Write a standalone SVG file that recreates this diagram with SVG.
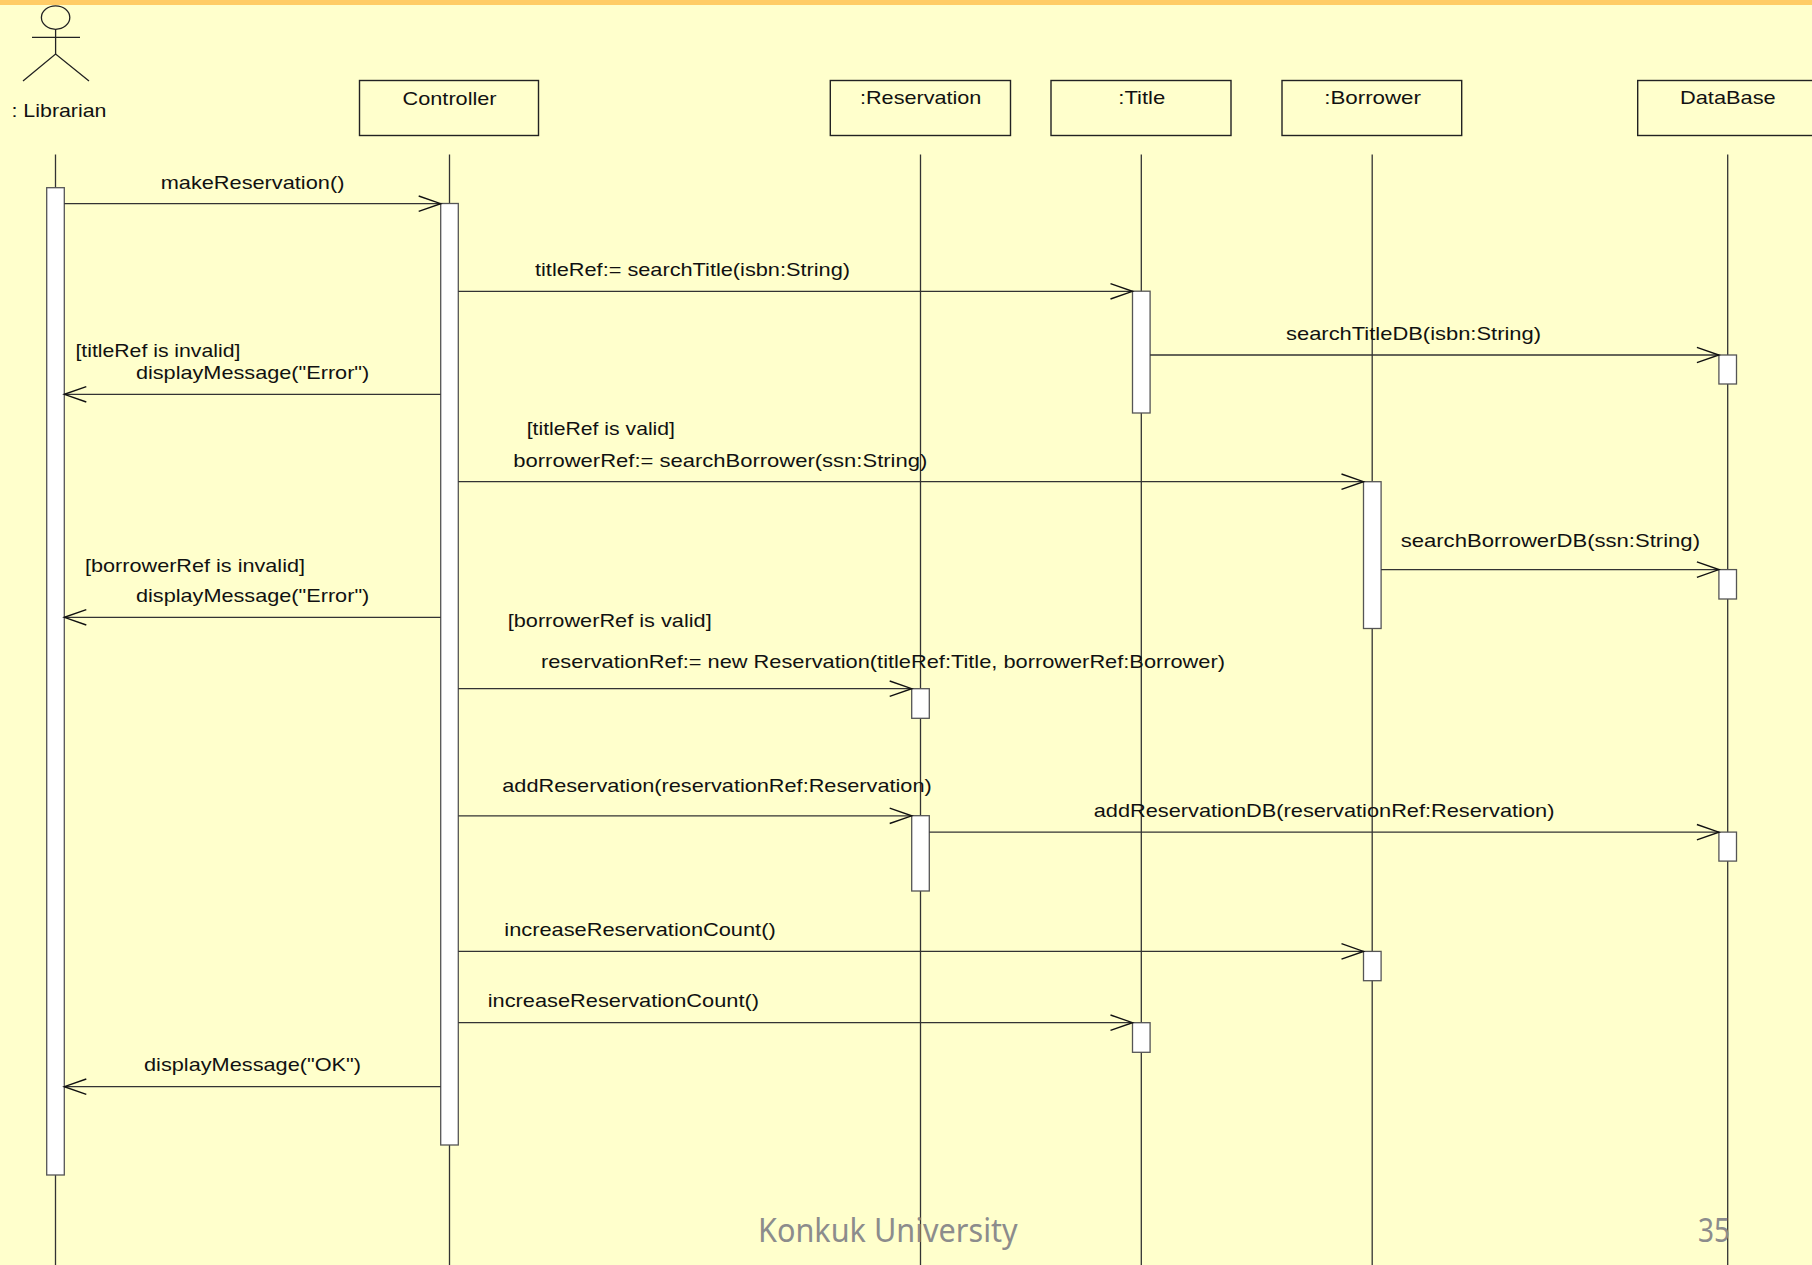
<svg xmlns="http://www.w3.org/2000/svg" width="1812" height="1265" viewBox="0 0 1812 1265">
<style>
.t{font-family:"Liberation Sans",Arial,sans-serif;font-size:18.6px;fill:#111}
.box{fill:none;stroke:#222;stroke-width:1.4}
.life{stroke:#333;stroke-width:1.3}
.act{fill:#fff;stroke:#555;stroke-width:1.3}
.msg{stroke:#333;stroke-width:1.3;fill:none;marker-end:url(#open)}
.foot{font-family:"Noto Sans","DejaVu Sans",sans-serif;font-size:32px;fill:#8c8c8c}
</style>
<defs>
<marker id="open" markerUnits="userSpaceOnUse" markerWidth="26" markerHeight="20" viewBox="0 0 26 20" refX="24" refY="10" orient="auto">
<path d="M2,2.3 L24,10 L2,17.7" fill="none" stroke="#111" stroke-width="1.4"/>
</marker>
</defs>
<rect x="0" y="0" width="1812" height="1265" fill="#FFFFCC"/>
<rect x="0" y="0" width="1812" height="5" fill="#FFCC66"/>

<g id="lifelines">
<line class="life" x1="55.5" y1="154.5" x2="55.5" y2="1265"/>
<line class="life" x1="449.5" y1="154.5" x2="449.5" y2="1265"/>
<line class="life" x1="920.5" y1="154.5" x2="920.5" y2="1265"/>
<line class="life" x1="1141.3" y1="154.5" x2="1141.3" y2="1265"/>
<line class="life" x1="1372.2" y1="154.5" x2="1372.2" y2="1265"/>
<line class="life" x1="1727.7" y1="154.5" x2="1727.7" y2="1265"/>
</g>

<g id="librarian">
<ellipse cx="55.6" cy="17.6" rx="14.2" ry="11.7" fill="none" stroke="#222" stroke-width="1.3"/>
<line x1="32" y1="37.3" x2="80" y2="37.3" stroke="#222" stroke-width="1.3"/>
<line x1="55.6" y1="29.3" x2="55.6" y2="54" stroke="#222" stroke-width="1.3"/>
<polyline points="23,81 55.6,54 89,81" fill="none" stroke="#222" stroke-width="1.3"/>
<text class="t" x="11.5" y="116.5" textLength="95" lengthAdjust="spacingAndGlyphs">: Librarian</text>
<rect class="act" x="46.7" y="187.7" width="17.6" height="987.3"/>
</g>

<g id="controller">
<rect class="box" x="359.5" y="80.5" width="179" height="55"/>
<text class="t" x="402.6" y="104.5" textLength="94" lengthAdjust="spacingAndGlyphs">Controller</text>
<rect class="act" x="440.7" y="203.5" width="17.6" height="941.5"/>
</g>

<g id="reservation">
<rect class="box" x="830.3" y="80.5" width="180.2" height="55"/>
<text class="t" x="860" y="104.3" textLength="121.4" lengthAdjust="spacingAndGlyphs">:Reservation</text>
<rect class="act" x="911.7" y="688.7" width="17.6" height="29.6"/>
<rect class="act" x="911.7" y="815.7" width="17.6" height="75.3"/>
</g>

<g id="title">
<rect class="box" x="1051" y="80.5" width="180" height="55"/>
<text class="t" x="1118.3" y="104.3" textLength="47" lengthAdjust="spacingAndGlyphs">:Title</text>
<rect class="act" x="1132.5" y="291.2" width="17.6" height="121.8"/>
<rect class="act" x="1132.5" y="1022.7" width="17.6" height="29.6"/>
</g>

<g id="borrower">
<rect class="box" x="1282" y="80.5" width="179.7" height="55"/>
<text class="t" x="1324.2" y="104.3" textLength="96.8" lengthAdjust="spacingAndGlyphs">:Borrower</text>
<rect class="act" x="1363.5" y="481.7" width="17.6" height="146.8"/>
<rect class="act" x="1363.5" y="951.4" width="17.6" height="29.3"/>
</g>

<g id="database">
<rect class="box" x="1637.7" y="80.5" width="182" height="55"/>
<text class="t" x="1680" y="104" textLength="95.7" lengthAdjust="spacingAndGlyphs">DataBase</text>
<rect class="act" x="1718.9" y="355" width="17.6" height="29"/>
<rect class="act" x="1718.9" y="569.6" width="17.6" height="29.4"/>
<rect class="act" x="1718.9" y="832.1" width="17.6" height="29"/>
</g>

<g id="connectors">
<line class="msg" x1="64.3" y1="203.7" x2="440.7" y2="203.7"/>
<line class="msg" x1="458.3" y1="291.3" x2="1132.5" y2="291.3"/>
<line class="msg" x1="1150.1" y1="355" x2="1718.9" y2="355"/>
<line class="msg" x1="440.7" y1="394.3" x2="64.3" y2="394.3"/>
<line class="msg" x1="458.3" y1="481.7" x2="1363.5" y2="481.7"/>
<line class="msg" x1="1381.1" y1="569.6" x2="1718.9" y2="569.6"/>
<line class="msg" x1="440.7" y1="617.3" x2="64.3" y2="617.3"/>
<line class="msg" x1="458.3" y1="688.7" x2="911.7" y2="688.7"/>
<line class="msg" x1="458.3" y1="815.8" x2="911.7" y2="815.8"/>
<line class="msg" x1="929.3" y1="832.2" x2="1718.9" y2="832.2"/>
<line class="msg" x1="458.3" y1="951.4" x2="1363.5" y2="951.4"/>
<line class="msg" x1="458.3" y1="1022.7" x2="1132.5" y2="1022.7"/>
<line class="msg" x1="440.7" y1="1086.7" x2="64.3" y2="1086.7"/>
</g>

<g id="labels">
<text class="t" x="160.7" y="189" textLength="183.7" lengthAdjust="spacingAndGlyphs">makeReservation()</text>
<text class="t" x="535" y="276" textLength="315" lengthAdjust="spacingAndGlyphs">titleRef:= searchTitle(isbn:String)</text>
<text class="t" x="1286" y="340" textLength="255" lengthAdjust="spacingAndGlyphs">searchTitleDB(isbn:String)</text>
<text class="t" x="75.4" y="356.7" textLength="165" lengthAdjust="spacingAndGlyphs">[titleRef is invalid]</text>
<text class="t" x="135.9" y="379" textLength="233.4" lengthAdjust="spacingAndGlyphs">displayMessage("Error")</text>
<text class="t" x="526.7" y="435" textLength="148.3" lengthAdjust="spacingAndGlyphs">[titleRef is valid]</text>
<text class="t" x="513.3" y="466.7" textLength="414" lengthAdjust="spacingAndGlyphs">borrowerRef:= searchBorrower(ssn:String)</text>
<text class="t" x="1400.7" y="546.7" textLength="299.3" lengthAdjust="spacingAndGlyphs">searchBorrowerDB(ssn:String)</text>
<text class="t" x="85" y="571.7" textLength="220" lengthAdjust="spacingAndGlyphs">[borrowerRef is invalid]</text>
<text class="t" x="136" y="602" textLength="233.3" lengthAdjust="spacingAndGlyphs">displayMessage("Error")</text>
<text class="t" x="507.7" y="626.7" textLength="204" lengthAdjust="spacingAndGlyphs">[borrowerRef is valid]</text>
<text class="t" x="541" y="668.3" textLength="684" lengthAdjust="spacingAndGlyphs">reservationRef:= new Reservation(titleRef:Title, borrowerRef:Borrower)</text>
<text class="t" x="502.3" y="791.7" textLength="429.4" lengthAdjust="spacingAndGlyphs">addReservation(reservationRef:Reservation)</text>
<text class="t" x="1093.7" y="816.7" textLength="460.7" lengthAdjust="spacingAndGlyphs">addReservationDB(reservationRef:Reservation)</text>
<text class="t" x="504.3" y="935.7" textLength="271.4" lengthAdjust="spacingAndGlyphs">increaseReservationCount()</text>
<text class="t" x="487.7" y="1007.3" textLength="271.3" lengthAdjust="spacingAndGlyphs">increaseReservationCount()</text>
<text class="t" x="144" y="1071" textLength="217" lengthAdjust="spacingAndGlyphs">displayMessage("OK")</text>
</g>

<g id="footer">
<text class="foot" x="758" y="1242.3" textLength="259.7" lengthAdjust="spacingAndGlyphs">Konkuk University</text>
<text class="foot" x="1698" y="1242.3" textLength="32" lengthAdjust="spacingAndGlyphs">35</text>
</g>
</svg>
